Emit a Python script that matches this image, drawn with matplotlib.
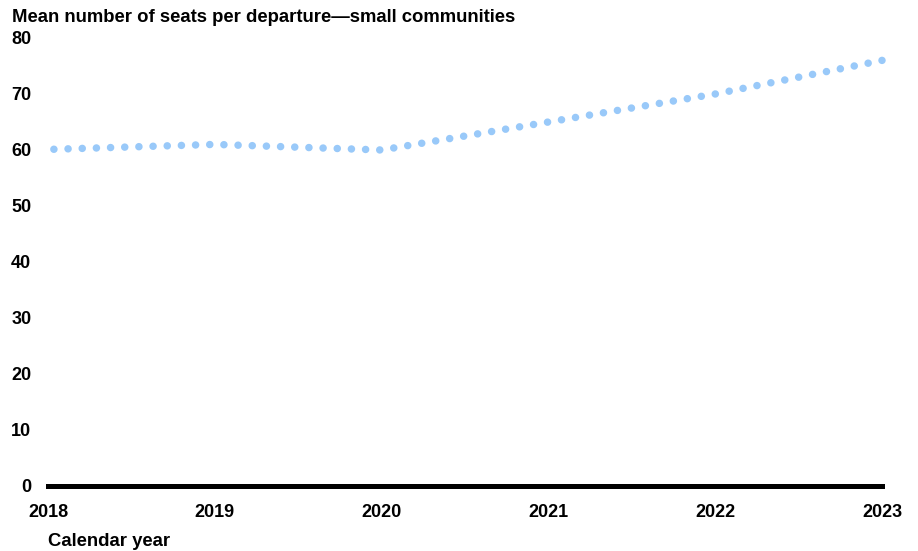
import matplotlib
matplotlib.use("Agg")
import matplotlib.pyplot as plt
import numpy as np

years = [2018, 2019, 2020, 2021, 2022, 2023]
seats = [60.1, 61.0, 60.0, 65.0, 70.0, 76.0]
y_ticks = [0, 10, 20, 30, 40, 50, 60, 70, 80]
title = "Mean number of seats per departure\u2014small communities"
xlabel = "Calendar year"

plt.rcParams['font.family'] = ['Liberation Sans', 'DejaVu Sans']

DPI = 100
fig = plt.figure(figsize=(9.18, 5.51), dpi=DPI)
ax = fig.add_axes([48/918, 1-486/551, 834/918, (486-38)/551])

ax.set_xlim(2018, 2023)
ax.set_ylim(0, 80)

# dotted line anchored so that a dot falls on the final point
lw = 5.4
on, off = 0.01, 1.88
pts = ax.transData.transform(np.column_stack([years, seats]))
L_pt = np.sum(np.hypot(np.diff(pts[:, 0]), np.diff(pts[:, 1]))) * 72 / DPI
P_pt = lw * (on + off)
offset = ((-L_pt) % P_pt) / lw

ax.plot(years, seats, color='#99C9F9', linewidth=lw,
        linestyle=(offset, (on, off)), dash_capstyle='round', clip_on=False)

ax.set_xticks(years)
ax.set_xticklabels([str(y) for y in years], fontweight='bold', fontsize=13)
ax.set_yticks(y_ticks)
ax.set_yticklabels([str(v) for v in y_ticks], fontweight='bold', fontsize=13)
ax.tick_params(axis='both', length=0)
ax.tick_params(axis='y', pad=12)
ax.tick_params(axis='x', pad=13)

for s in ['top', 'right', 'left']:
    ax.spines[s].set_visible(False)
ax.spines['bottom'].set_linewidth(3.6)
ax.spines['bottom'].set_color('black')

fig.text(12/918, 1-22/551, title, fontweight='bold', fontsize=13.35, ha='left', va='baseline')
fig.text(48/918, 1-546/551, xlabel, fontweight='bold', fontsize=13.35, ha='left', va='baseline')

fig.savefig('out.png', dpi=DPI)
